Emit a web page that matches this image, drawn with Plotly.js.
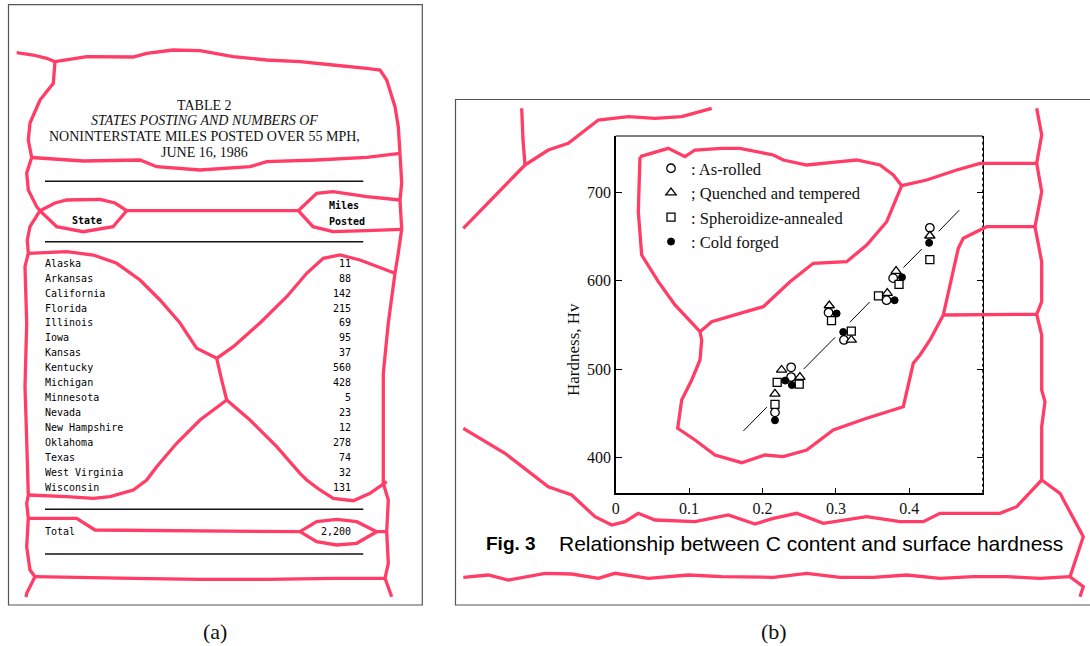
<!DOCTYPE html>
<html>
<head>
<meta charset="utf-8">
<script src="https://cdn.plot.ly/plotly-3.0.1.min.js"></script>
<style>html,body{margin:0;padding:0;background:#fff;} #chart{width:1090px;height:646px;}</style>
</head>
<body>
<div id="chart"></div>
<script>
// ---------- Panel (a): table data ----------
const tableTitle = ["TABLE 2", "<i>STATES POSTING AND NUMBERS OF</i>", "NONINTERSTATE MILES POSTED OVER 55 MPH,", "JUNE 16, 1986"];
const states = ["Alaska","Arkansas","California","Florida","Illinois","Iowa","Kansas","Kentucky","Michigan","Minnesota","Nevada","New Hampshire","Oklahoma","Texas","West Virginia","Wisconsin"];
const milesPosted = [11,88,142,215,69,95,37,560,428,5,23,12,278,74,32,131];
const totalLabel = "Total";
const totalMiles = 2200;

// ---------- Panel (b): hardness vs carbon content ----------
const seriesNames = [": As-rolled", "; Quenched and tempered", ": Spheroidize-annealed", ": Cold forged"];
const asRolledC   = [0.217, 0.239, 0.239, 0.290, 0.311, 0.369, 0.378, 0.428];
const asRolledHv  = [451, 502, 491, 564, 533, 578, 603, 660];
const quenchedC   = [0.217, 0.226, 0.251, 0.291, 0.321, 0.370, 0.382, 0.428];
const quenchedHv  = [472, 499, 491, 572, 533, 586, 611, 651];
const spheroC     = [0.217, 0.220, 0.250, 0.294, 0.321, 0.358, 0.386, 0.428];
const spheroHv    = [460, 485, 483, 555, 543, 583, 596, 624];
const forgedC     = [0.217, 0.231, 0.240, 0.301, 0.310, 0.380, 0.390, 0.427];
const forgedHv    = [442, 487, 482, 563, 542, 578, 604, 643];
// fitted line, drawn in broken pieces (gaps at the point clusters)
const fitC  = [0.174, 0.206, null, 0.256, 0.299, null, 0.319, 0.346, null, 0.392, 0.417, null, 0.440, 0.468];
const fitHv = [430, 457, null, 500, 536, null, 553, 576, null, 615, 636, null, 656, 680];
const xTickVals = [0, 0.1, 0.2, 0.3, 0.4];
const xTickText = ["0", "0.1", "0.2", "0.3", "0.4"];
const yTickVals = [400, 500, 600, 700];

// ---------- page geometry (pixels of the 1090x646 page) ----------
const W = 1090, H = 646;
const PINK = "#ff3d66";
const px = v => v / W, py = v => 1 - v / H;

// pink segmentation outlines (pixel polylines)
const pinkLines = [
  // panel (a)
  [[16.7,52.7],[33,55],[46.7,58.3],[55,61.7]],
  [[55,61.7],[86.7,56.7],[133,57],[146.7,53.3],[173,50],[200,50.7],[233,56.7],[266.7,60],[300,61.7],[333,65],[366.7,68.3],[380,70],[386.7,80],[395,106.7],[398.3,126.7],[400,153.3]],
  [[55,61.7],[53.3,83.3],[40,100],[30,123],[28.3,140],[31.7,157.5]],
  [[31.7,157.5],[83.3,161],[140,160],[156.7,166.7],[200,170],[250,166.7],[266.7,161.7],[316.7,160],[366.7,157.3],[400,153.3]],
  [[31.7,157.5],[26.7,173],[28.3,190],[36.7,206.7],[40,210.7]],
  [[40,210.7],[55,203],[66.7,200],[100,199.3],[115,203],[126.7,210.7]],
  [[40,210.7],[56.7,226.7],[83.3,231.7],[113,226.7],[126.7,210.7]],
  [[126.7,210.7],[298.3,210.7]],
  [[298.3,210.7],[316.7,193.3],[333,191.7],[366.7,196.7],[400,200]],
  [[298.3,210.7],[313,226.7],[333,231.7],[366.7,230.7],[401.7,229.3]],
  [[400,153.3],[401.7,183],[400,200],[401.7,229.3],[398,255],[395,273.3],[388.3,323],[383.3,373.3],[383.3,423],[383.3,483.3],[388.3,500],[386.7,531.7],[388.3,563.3],[385,578.3]],
  [[40,210.7],[30,226.7],[27.3,240],[28.3,253.3],[25,266.7],[26.7,323],[25,386.7],[26.7,440],[28.3,495],[26.7,503.3],[28.3,518.3],[26.7,546.7],[30,570],[35,576.7],[26.7,593.3],[26,597]],
  [[28.3,253.3],[66.7,251.7],[93.3,255],[116.7,263.3],[140,280],[160,300],[180,323],[196.7,348.3],[216.7,358.3]],
  [[216.7,358.3],[233.3,346.7],[260,323],[286.7,296.7],[306.7,273.3],[323.3,258.3],[340,255],[360,260],[395,273.3]],
  [[216.7,358.3],[221.7,380],[226.7,400]],
  [[226.7,400],[200,420],[176.7,443.3],[156.7,466.7],[146.7,480],[133.3,490],[110,496.7],[93.3,498.3],[66.7,496.7],[28.3,495]],
  [[226.7,400],[250,420],[276.7,446.7],[300,473.3],[306.7,480],[320,490],[333.3,498.3],[353.3,500.7],[370,493.3],[386.7,481.7]],
  [[28.3,518.3],[76.7,518.3],[95,530],[300,531.7]],
  [[300,531.7],[316.7,521.7],[336.7,519.3],[356.7,521.7],[376.7,531.7]],
  [[300,531.7],[316.7,541.7],[336.7,545],[356.7,543.3],[376.7,531.7],[386.7,531.7]],
  [[35,576.7],[133.3,578.3],[200,579.3],[266.7,579.3],[333.3,578.3],[385,578.3]],
  [[385,578.3],[391.7,596.7]],
  // panel (b)
  [[521.7,108.3],[523,140],[525,165]],
  [[525,165],[463.3,228.3]],
  [[525,165],[548.3,150],[568.3,143.3],[598.3,120],[628.3,116.7],[655,118.3],[681.7,116.7],[711.7,108.3]],
  [[640,156.7],[668.3,148.3],[685,156.7],[695,150],[721.7,148.3],[740,148.3],[773.3,155],[783.3,160],[806.7,165],[840,161.7],[856.7,160],[880,165],[893.3,175],[901.7,185.7]],
  [[901.7,185.7],[926.7,180],[956.7,170],[980,163.3],[1036.7,163.3]],
  [[901.7,185.7],[886.7,221.7],[866.7,245],[846.7,261.7],[813.3,263.3],[790,281.7],[763.3,306.7],[740,313.3],[711.7,321.7],[700,331.7]],
  [[640,156.7],[638.3,211.7],[641.7,255],[658.3,281.7],[675,305],[700,331.7]],
  [[700,331.7],[701.7,340],[700,360],[691.7,380],[681.7,400],[677.7,428.3],[695,440],[715,455],[741.7,462.7],[765,455],[783.3,456.7],[806.7,450],[833.3,430],[866.7,418.3],[903.3,406.7],[913.3,363.3],[920,355],[930,340],[943.3,315]],
  [[943.3,315],[958.3,248.3],[963.3,238.3],[986.7,226.7],[1035,226.7]],
  [[943.3,315],[1036.7,314.3]],
  [[1036.7,108.3],[1041.7,135],[1036.7,163.3],[1041.7,191.7],[1035,226.7],[1041.7,261.7],[1041.7,301.7],[1036.7,314.3],[1041.7,335],[1041.7,390],[1045,401.7],[1041.7,426.7],[1041.7,480]],
  [[1041.7,480],[1016.7,506.7],[1000,513.3],[973.3,513.3],[940,513.3],[923.3,521.7],[900,521.7],[866.7,516.7],[823.3,523.3],[796.7,513.3],[773.3,518.3],[755,524],[728.3,515],[695,521.7],[655,520],[638.3,513.3],[625,521.7],[611.7,525],[595,516.7],[571.7,495],[548.3,486.7],[505,453.3],[463.3,428.3]],
  [[1041.7,480],[1060,493.3],[1083.3,536.7],[1070,576.7]],
  [[1070,576.7],[1083.3,586.7],[1080,596.7]],
  [[1070,576.7],[1040,578.3],[1006.7,576.7],[973.3,576.7],[940,578.3],[906.7,575],[873.3,577.3],[840,577.3],[806.7,573.3],[773.3,577.3],[721.7,576.7],[688.3,575],[648.3,578.3],[615,573.3],[598.3,578.3],[571.7,574],[545,573.3],[508.3,580],[488.3,575],[463.3,577.3]]
];

const shapes = [];
// panel frames
shapes.push({type:"rect", xref:"x2", yref:"y2", x0:8.5, x1:422.3, y0:4.7, y1:605, line:{color:"#555", width:1.2}, layer:"below"});
shapes.push({type:"rect", xref:"x2", yref:"y2", x0:455.5, x1:1096, y0:99.5, y1:605, line:{color:"#555", width:1.2}, layer:"below"});
// table rules
[181.3, 241.7, 509.3, 554].forEach(y => {
  shapes.push({type:"line", xref:"x2", yref:"y2", x0:45, x1:363.3, y0:y, y1:y, line:{color:"#111", width:1.4}, layer:"below"});
});
// scatter frame: top line and dotted right line
shapes.push({type:"line", xref:"x domain", yref:"y domain", x0:0, x1:1, y0:1, y1:1, line:{color:"#000", width:1}});
shapes.push({type:"line", xref:"x domain", yref:"y domain", x0:1, x1:1, y0:0, y1:1, line:{color:"#000", width:1, dash:"dot"}});
// pink outlines
pinkLines.forEach(pts => {
  shapes.push({type:"path", xref:"x2", yref:"y2", layer:"above",
    path: "M" + pts.map(p => p[0] + "," + p[1]).join("L"),
    line:{color:PINK, width:3.3}});
});

const serif = "Liberation Serif";
const mono = "DejaVu Sans Mono";
const annotations = [];
const titleY = [105, 120.5, 136.5, 152.5];
tableTitle.forEach((t, i) => annotations.push({xref:"x2", yref:"y2", x:204, y:titleY[i], text:t, showarrow:false,
  xanchor:"center", yanchor:"middle", font:{family:serif, size:14, color:"#111"}}));
annotations.push({xref:"x2", yref:"y2", x:70, y:220, text:"<b>State</b>", showarrow:false, xanchor:"left", yanchor:"middle", font:{family:mono, size:10, color:"#000"}});
annotations.push({xref:"x2", yref:"y2", x:327, y:205.5, text:"<b>Miles</b>", showarrow:false, xanchor:"left", yanchor:"middle", font:{family:mono, size:10, color:"#000"}});
annotations.push({xref:"x2", yref:"y2", x:327, y:221, text:"<b>Posted</b>", showarrow:false, xanchor:"left", yanchor:"middle", font:{family:mono, size:10, color:"#000"}});
annotations.push({xref:"x2", yref:"y2", x:215, y:631, text:"(a)", showarrow:false, xanchor:"center", yanchor:"middle", font:{family:serif, size:22, color:"#111"}});
annotations.push({xref:"x2", yref:"y2", x:774, y:631, text:"(b)", showarrow:false, xanchor:"center", yanchor:"middle", font:{family:serif, size:22, color:"#111"}});
annotations.push({xref:"x2", yref:"y2", x:573, y:350, text:"Hardness, Hv", textangle:-90, showarrow:false, xanchor:"center", yanchor:"middle", font:{family:serif, size:17, color:"#111"}});
annotations.push({xref:"x2", yref:"y2", x:484, y:543, text:"<b>Fig. 3</b>", showarrow:false, xanchor:"left", yanchor:"middle", font:{family:"Liberation Sans", size:19, color:"#000"}});
annotations.push({xref:"x2", yref:"y2", x:557, y:543, text:"Relationship between C content and surface hardness", showarrow:false, xanchor:"left", yanchor:"middle", font:{family:"Liberation Sans", size:21, color:"#000"}});

const markerLine = {color:"#000", width:1.3};
const traces = [
  {x:fitC, y:fitHv, mode:"lines", line:{color:"#000", width:1}, showlegend:false, connectgaps:false, xaxis:"x", yaxis:"y"},
  {x:asRolledC, y:asRolledHv, name:seriesNames[0], mode:"markers", marker:{symbol:"circle", size:8.5, color:"#fff", line:markerLine}, xaxis:"x", yaxis:"y"},
  {x:quenchedC, y:quenchedHv, name:seriesNames[1], mode:"markers", marker:{symbol:"triangle-up", size:9, color:"#fff", line:markerLine}, xaxis:"x", yaxis:"y"},
  {x:spheroC, y:spheroHv, name:seriesNames[2], mode:"markers", marker:{symbol:"square", size:8, color:"#fff", line:markerLine}, xaxis:"x", yaxis:"y"},
  {x:forgedC, y:forgedHv, name:seriesNames[3], mode:"markers", marker:{symbol:"circle", size:7, color:"#000", line:{color:"#000", width:1}}, xaxis:"x", yaxis:"y"},
  // table body
  {x:states.map(() => 0), y:states, text:states, mode:"text", textposition:"middle right", textfont:{family:mono, size:10, color:"#000"}, showlegend:false, xaxis:"x3", yaxis:"y3"},
  {x:states.map(() => 1), y:states, text:milesPosted.map(String), mode:"text", textposition:"middle left", textfont:{family:mono, size:10, color:"#000"}, showlegend:false, xaxis:"x3", yaxis:"y3"},
  // total row
  {x:[0, 1], y:[532, 532], text:[totalLabel, totalMiles.toLocaleString("en-US")], mode:"text", textposition:["middle right","middle left"], textfont:{family:mono, size:10, color:"#000"}, showlegend:false, xaxis:"x3", yaxis:"y2"}
];

const hidden = {visible:false, showgrid:false, zeroline:false, fixedrange:true};
const layout = {
  width:W, height:H, margin:{l:0, r:0, t:0, b:0}, paper_bgcolor:"#fff", plot_bgcolor:"rgba(0,0,0,0)",
  hovermode:false, showlegend:true,
  xaxis:{domain:[px(615.7), px(982.7)], range:[0, 0.5], tickvals:xTickVals, ticktext:xTickText, ticks:"inside", ticklen:5, tickcolor:"#000",
    showline:true, linecolor:"#000", linewidth:2, showgrid:false, zeroline:false, anchor:"y",
    tickfont:{family:serif, size:16, color:"#111"}},
  yaxis:{domain:[py(492.7), py(136)], range:[360, 764], tickvals:yTickVals, ticks:"inside", ticklen:6, tickcolor:"#000",
    showline:true, linecolor:"#000", linewidth:1.5, showgrid:false, zeroline:false, anchor:"x", mirror:"ticks",
    tickfont:{family:serif, size:16, color:"#111"}},
  xaxis2:Object.assign({domain:[0,1], range:[0, W], anchor:"y2"}, hidden),
  yaxis2:Object.assign({domain:[0,1], range:[H, 0], anchor:"x2"}, hidden),
  xaxis3:Object.assign({domain:[px(45), px(351)], range:[0, 1], anchor:"y3"}, hidden),
  yaxis3:Object.assign({domain:[py(495.7), py(256.8)], type:"category", categoryarray:states, range:[15.5, -0.5], anchor:"x3"}, hidden),
  legend:{x:px(651), y:py(151), xanchor:"left", yanchor:"top", bgcolor:"rgba(0,0,0,0)", borderwidth:0,
    font:{family:serif, size:16.5, color:"#111"}, itemwidth:30, traceorder:"normal"},
  shapes:shapes, annotations:annotations
};

Plotly.newPlot("chart", traces, layout, {staticPlot:true, displayModeBar:false});
</script>
</body>
</html>
